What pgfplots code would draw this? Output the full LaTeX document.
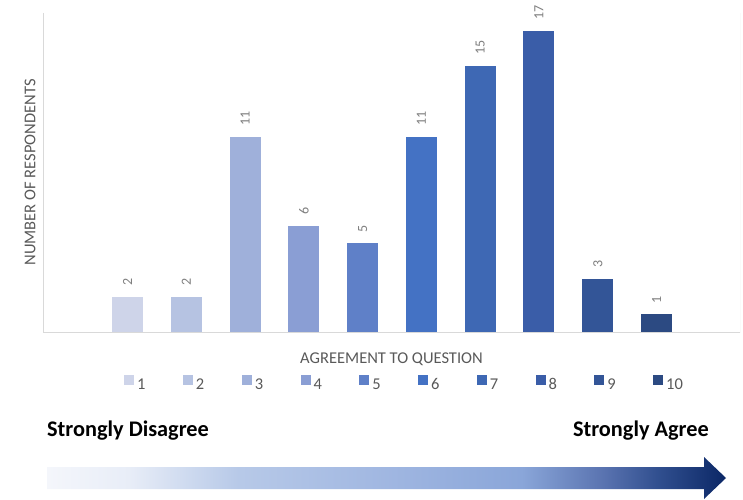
\documentclass[border=0pt]{standalone}
\usepackage{fontspec}
\setmainfont{Carlito}
\usepackage{pgfplots}
\pgfplotsset{compat=1.18}

\definecolor{c1}{HTML}{CED4E9}
\definecolor{c2}{HTML}{B6C3E2}
\definecolor{c3}{HTML}{9FB0DA}
\definecolor{c4}{HTML}{8A9ED4}
\definecolor{c5}{HTML}{5F80C8}
\definecolor{c6}{HTML}{4472C4}
\definecolor{c7}{HTML}{3E68B4}
\definecolor{c8}{HTML}{3A5DA8}
\definecolor{c9}{HTML}{335597}
\definecolor{c10}{HTML}{2C4A82}
\definecolor{axgray}{HTML}{D9D9D9}
\definecolor{txtgray}{HTML}{595959}
\definecolor{lblgray}{HTML}{7F7F7F}

% pale-to-navy fill of the scale arrow (25bp..75bp spans the arrow)
\pgfdeclarehorizontalshading{agree}{100bp}{
  rgb(0bp)=(0.957,0.965,0.984);
  rgb(25bp)=(0.957,0.965,0.984);
  rgb(31bp)=(0.91,0.93,0.97);
  rgb(39bp)=(0.72,0.79,0.91);
  rgb(51bp)=(0.62,0.71,0.88);
  rgb(60bp)=(0.54,0.65,0.85);
  rgb(66bp)=(0.35,0.45,0.69);
  rgb(70bp)=(0.19,0.31,0.56);
  rgb(75bp)=(0.043,0.153,0.40);
  rgb(100bp)=(0.043,0.153,0.40)}

\begin{document}
\begin{tikzpicture}
\useasboundingbox (0pt,0pt) rectangle (743pt,499pt);
\begin{axis}[
  at={(43pt,167pt)}, anchor=south west,
  width=697pt, height=319pt, scale only axis,
  xmin=-0.4375, xmax=11.42, ymin=0, ymax=18,
  axis line style={draw=none},
  xtick=\empty, ytick=\empty,
  /pgf/number format/assume math mode=true,
  ybar, bar width=31pt, bar shift=0pt,
  nodes near coords,
  every node near coord/.append style={rotate=90, anchor=west,
    inner xsep=11pt, inner ysep=0pt, text=lblgray,
    font=\fontsize{14}{16}\selectfont},
  xlabel={AGREEMENT TO QUESTION},
  xlabel style={at={(axis description cs:0.5,-0.1003)}, anchor=base,
    text=txtgray, font=\fontsize{16.5}{19}\selectfont},
  ylabel={NUMBER OF RESPONDENTS},
  ylabel style={at={(axis description cs:-0.0187,0.5)}, anchor=center,
    text=txtgray, font=\fontsize{16.5}{19}\selectfont},
  legend image code/.code={\fill[#1] (0pt,0pt) rectangle (10pt,10pt);},
  legend style={draw=none, fill=none, legend columns=10,
    at={(axis description cs:0.1162,-0.16)}, anchor=west, inner sep=0pt,
    font=\fontsize{16.5}{19}\selectfont, text=txtgray,
    nodes={inner sep=0pt, text width=20pt, align=left},
    /tikz/every odd column/.style={column sep=3pt},
    /tikz/every even column/.style={column sep=25.78pt}},
  legend cell align=left,
]
\addplot[fill=c1, draw=none] coordinates {(1,2)};
\addplot[fill=c2, draw=none] coordinates {(2,2)};
\addplot[fill=c3, draw=none] coordinates {(3,11)};
\addplot[fill=c4, draw=none] coordinates {(4,6)};
\addplot[fill=c5, draw=none] coordinates {(5,5)};
\addplot[fill=c6, draw=none] coordinates {(6,11)};
\addplot[fill=c7, draw=none] coordinates {(7,15)};
\addplot[fill=c8, draw=none] coordinates {(8,17)};
\addplot[fill=c9, draw=none] coordinates {(9,3)};
\addplot[fill=c10, draw=none] coordinates {(10,1)};
\legend{1,2,3,4,5,6,7,8,9,10}
\draw[axgray, line width=1pt] (rel axis cs:0,1) -- (rel axis cs:0,0)
  -- (rel axis cs:1,0) -- (rel axis cs:1,1);
\end{axis}

% the agreement scale below the chart
\begin{scope}[x=1pt, y=1pt]
\node[anchor=base west, inner sep=0pt, font=\fontsize{22.3}{26}\selectfont\bfseries]
  at (47,63) {Strongly Disagree};
\node[anchor=base east, inner sep=0pt, font=\fontsize{22.3}{26}\selectfont\bfseries]
  at (709,63) {Strongly Agree};
\shade[shading=agree] (47,10) -- (704,10) -- (704,0) -- (726,21)
  -- (704,42) -- (704,32) -- (47,32) -- cycle;
\end{scope}
\end{tikzpicture}
\end{document}
